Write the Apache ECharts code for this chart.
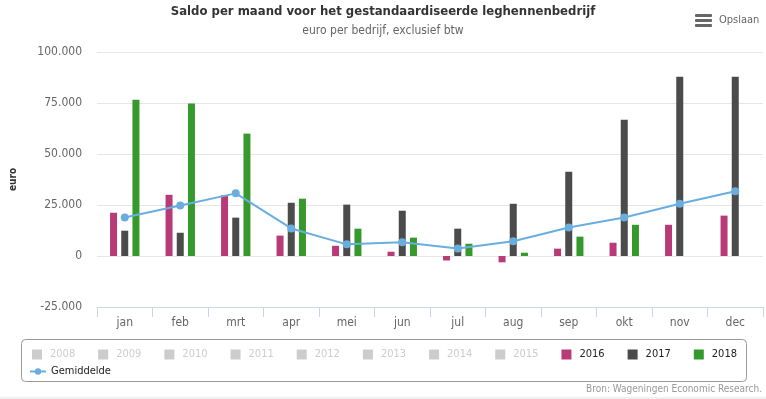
<!DOCTYPE html>
<html><head><meta charset="utf-8">
<script src="https://cdn.jsdelivr.net/npm/echarts@6/dist/echarts.min.js"></script>
<style>html,body{margin:0;padding:0;background:#fff}#c{width:766px;height:399px}</style>
</head><body><div id="c"></div>
<script>
const months = ['jan','feb','mrt','apr','mei','jun','jul','aug','sep','okt','nov','dec'];
const hiddenYears = ['2008','2009','2010','2011','2012','2013','2014','2015'];
const s2016 = [21200, 30000, 29800, 10000, 5000, 2100, -2200, -3100, 3600, 6500, 15300, 19800];
const s2017 = [12400, 11400, 18800, 26100, 25200, 22200, 13400, 25600, 41300, 66800, 87900, 87900];
const s2018 = [76600, 74700, 60000, 28100, 13400, 9000, 6000, 1600, 9500, 15300, null, null];
const gemiddelde = [18900, 24800, 30700, 13500, 5700, 6700, 3700, 7200, 14000, 18900, 25600, 31700];
const yTicks = { min: -25000, max: 100000, interval: 25000 };

const FONT = '"DejaVu Sans Condensed", "DejaVu Sans", sans-serif';
const chart = echarts.init(document.getElementById('c'), null, { renderer: 'canvas' });
const fmt = v => {
  const s = Math.abs(v).toString().replace(/\B(?=(\d{3})+(?!\d))/g, '.');
  return (v < 0 ? '-' : '') + s;
};
const barCommon = { type: 'bar', barWidth: 7, barGap: '60%' };
const series = hiddenYears.map(y => Object.assign({ name: y, data: [], itemStyle: { color: '#ccc' } }, barCommon));
series.push(Object.assign({ name: '2016', data: s2016, itemStyle: { color: '#b83b77' } }, barCommon));
series.push(Object.assign({ name: '2017', data: s2017, itemStyle: { color: '#4b4b4b' } }, barCommon));
series.push(Object.assign({ name: '2018', data: s2018, itemStyle: { color: '#359a2b' } }, barCommon));
series.push({
  name: 'Gemiddelde', type: 'line', data: gemiddelde, symbol: 'circle', symbolSize: 8,
  lineStyle: { color: '#6aaee0', width: 2 }, itemStyle: { color: '#6aaee0' }, z: 5
});
const selected = {};
hiddenYears.forEach(y => selected[y] = false);

chart.setOption({
  animation: false,
  textStyle: { fontFamily: FONT },
  title: [{
    text: 'Saldo per maand voor het gestandaardiseerde leghennenbedrijf',
    subtext: 'euro per bedrijf, exclusief btw',
    left: 'center', top: 0, itemGap: 7,
    textStyle: { fontFamily: FONT, fontSize: 13, fontWeight: 'bold', color: '#333' },
    subtextStyle: { fontFamily: FONT, fontSize: 12, color: '#666' }
  }, {
    text: 'Bron: Wageningen Economic Research.',
    right: 4, top: 384, padding: 0,
    textStyle: { fontFamily: FONT, fontSize: 10, fontWeight: 'normal', color: '#999' }
  }],
  grid: { left: 97, right: 3, top: 52, bottom: 92, containLabel: false },
  xAxis: {
    type: 'category', data: months,
    axisLine: { onZero: false, lineStyle: { color: '#ccd6eb' } },
    axisTick: { show: true, length: 10, lineStyle: { color: '#ccd6eb' } },
    axisLabel: { color: '#666', fontSize: 12, margin: 10, fontFamily: FONT }
  },
  yAxis: {
    type: 'value', min: yTicks.min, max: yTicks.max, interval: yTicks.interval,
    name: 'euro', nameLocation: 'middle', nameGap: 79,
    nameTextStyle: { fontFamily: FONT, fontSize: 10, fontWeight: 'bold', color: '#333' },
    axisLine: { show: false }, axisTick: { show: false },
    splitLine: { lineStyle: { color: '#e6e6e6' } },
    axisLabel: { color: '#666', fontSize: 12, margin: 15, formatter: fmt, fontFamily: FONT }
  },
  legend: [{
    data: hiddenYears.concat(['2016','2017','2018']),
    selected: selected,
    left: 32, top: 349, padding: 0, orient: 'horizontal',
    itemWidth: 10, itemHeight: 10, itemGap: 23, icon: 'rect',
    inactiveColor: '#ccc',
    textStyle: { fontFamily: FONT, fontSize: 11, color: '#222', padding: [0,0,0,3] }
  }, {
    data: ['Gemiddelde'],
    left: 29, top: 366, padding: 0, itemWidth: 16, itemHeight: 8,
    textStyle: { fontFamily: FONT, fontSize: 11, color: '#222' }
  }],
  graphic: [
    { type: 'rect', shape: { x: 21.5, y: 339.5, width: 725, height: 42, r: 4 },
      style: { fill: 'none', stroke: '#999', lineWidth: 1 }, silent: true },
    { type: 'rect', shape: { x: 0, y: 397, width: 766, height: 2 }, style: { fill: '#f0f0ee' }, silent: true },
    { type: 'rect', shape: { x: 695, y: 14, width: 17, height: 3, r: 1 }, style: { fill: '#666' } },
    { type: 'rect', shape: { x: 695, y: 19, width: 17, height: 3, r: 1 }, style: { fill: '#666' } },
    { type: 'rect', shape: { x: 695, y: 24, width: 17, height: 3, r: 1 }, style: { fill: '#666' } },
    { type: 'text', x: 719, y: 20, style: { text: 'Opslaan', fill: '#666', font: '11px ' + FONT, textVerticalAlign: 'middle' } }
  ],
  series: series
});
</script></body></html>
